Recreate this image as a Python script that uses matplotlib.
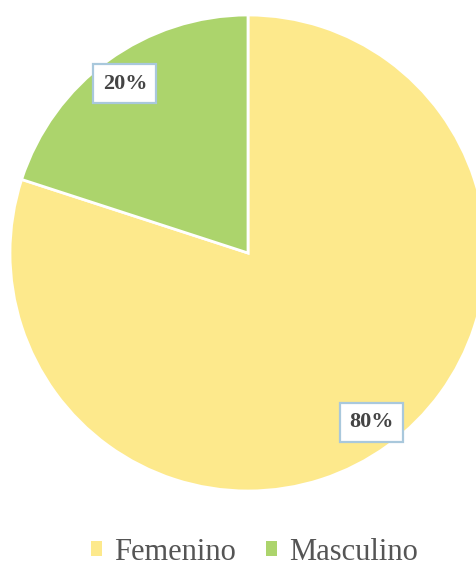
import matplotlib.pyplot as plt
from matplotlib.patches import Patch

# respuestas por sexo (%)
labels = ['Femenino', 'Masculino']
values = [80, 20]
colors = ['#fde98c', '#acd46c']

plt.rcParams['font.family'] = ['Liberation Serif', 'DejaVu Serif']

fig = plt.figure(figsize=(4.76, 5.66), dpi=100)
ax = fig.add_axes([10 / 476, (566 - 491) / 566, 476 / 476, 476 / 566])

wedges, texts, autotexts = ax.pie(
    values, colors=colors, startangle=90, counterclock=False,
    autopct='%1.0f%%', pctdistance=0.88, radius=1.0,
    wedgeprops=dict(edgecolor='white', linewidth=2),
    textprops=dict(fontsize=16, fontweight='bold', color='#444444'))
for t in autotexts:
    t.set_bbox(dict(boxstyle='square,pad=0.42', facecolor='white',
                    edgecolor='#a9c8dc', linewidth=1.6))
for w in wedges:
    w.set_clip_on(False)
ax.set_xlim(-1, 1)
ax.set_ylim(-1, 1)
ax.set_aspect('equal')
ax.axis('off')

handles = [Patch(facecolor=c, edgecolor='none') for c in colors]
fig.legend(handles, labels, loc='center', bbox_to_anchor=(0.535, 1 - 552 / 566),
           ncol=2, frameon=False, fontsize=22, handlelength=0.35,
           handleheight=0.35, handletextpad=0.4, columnspacing=1.0,
           labelcolor='#555555')

plt.savefig('out.png', dpi=100)
plt.close()
